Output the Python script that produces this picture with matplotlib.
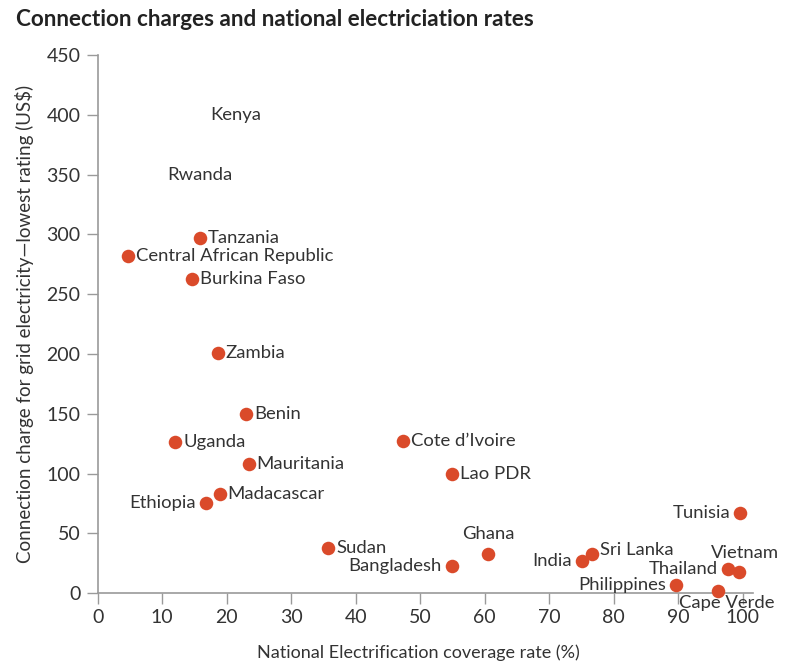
import matplotlib
matplotlib.use("Agg")
from matplotlib import pyplot as plt

# data
countries = ["Tanzania", "Central African Republic", "Burkina Faso", "Zambia", "Benin",
             "Uganda", "Mauritania", "Madacascar", "Ethiopia", "Cote d\u2019Ivoire", "Lao PDR",
             "Tunisia", "Sudan", "Bangladesh", "Ghana", "India", "Sri Lanka", "Vietnam",
             "Thailand", "Philippines", "Cape Verde"]
coverage = [15.9, 4.7, 14.6, 18.6, 23.0, 12.0, 23.4, 18.9, 16.8, 47.3, 54.9,
            99.6, 35.7, 54.9, 60.5, 75.0, 76.7, 99.4, 97.7, 89.7, 96.1]
charge = [297, 282, 263, 201, 150, 126, 108, 83, 75, 127, 100,
          67, 38, 23, 33, 27, 33, 18, 20, 7, 2]
# where each label sits relative to its dot
label_side = ["r", "r", "r", "r", "r", "r", "r", "r", "l", "r", "r",
              "l", "r", "l", "above", "l", "r", "vietnam", "l", "l", "below"]

# countries with a label but no dot in the original
text_only = ["Kenya", "Rwanda"]
text_only_x = [21.4, 15.9]
text_only_y = [400, 350]

xticks = [0, 10, 20, 30, 40, 50, 60, 70, 80, 90, 100]
yticks = [0, 50, 100, 150, 200, 250, 300, 350, 400, 450]

plt.rcParams["font.family"] = ["Lato", "DejaVu Sans"]
text_col = "#333333"
dot_col = "#DA4A2A"
axis_col = "#9a9a9a"

fig = plt.figure(figsize=(7.94, 6.62), dpi=100)
ax = fig.add_axes([0.123, 0.104, 0.8255, 0.813])

ax.scatter(coverage, charge, s=95, color=dot_col, zorder=3, clip_on=False, linewidths=0)

offsets = {"r": ((8, 0), "left", "center"),
           "l": ((-10, 0), "right", "center"),
           "above": ((0, 12), "center", "bottom"),
           "vietnam": ((6, 11), "center", "bottom"),
           "below": ((9, -4), "center", "top")}
for name, x, y, side in zip(countries, coverage, charge, label_side):
    off, ha, va = offsets[side]
    if name == "Sri Lanka":
        off = (8, 4)
    ax.annotate(name, (x, y), xytext=off, textcoords="offset pixels",
                ha=ha, va=va, fontsize=13.3, color=text_col, zorder=4)

for name, x, y in zip(text_only, text_only_x, text_only_y):
    ax.text(x, y, name, ha="center", va="center", fontsize=13.3, color=text_col)

ax.set_xlim(0, 101.6)
ax.set_ylim(0, 450)
ax.set_xticks(xticks)
ax.set_yticks(yticks)
ax.tick_params(axis="both", colors=axis_col, labelcolor=text_col, labelsize=14,
               length=8, width=1)
ax.tick_params(axis="x", pad=3.5)
ax.tick_params(axis="y", pad=4.5)
for side in ["top", "right"]:
    ax.spines[side].set_visible(False)
for side in ["left", "bottom"]:
    ax.spines[side].set_color(axis_col)
    ax.spines[side].set_linewidth(1.2)

ax.set_xlabel("National Electrification coverage rate (%)", fontsize=13,
              color=text_col, va="center")
ax.xaxis.set_label_coords(0.49, -0.111)
ax.set_ylabel("Connection charge for grid electricity\u2014lowest rating (US$)",
              fontsize=13.5, color=text_col, va="center")
ax.yaxis.set_label_coords(-0.112, 0.5)

fig.text(0.02, 0.971, "Connection charges and national electriciation rates",
         fontsize=16.2, fontweight="bold", color="#222222", ha="left", va="center")

plt.savefig("out.png", dpi=100)
